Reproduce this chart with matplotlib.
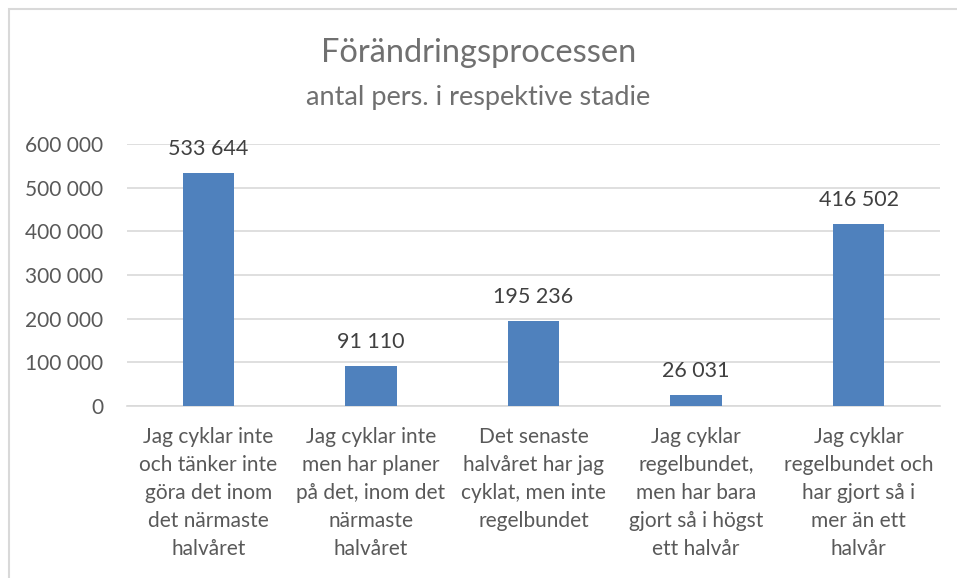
import matplotlib.pyplot as plt
import matplotlib.patches as mpatches
from matplotlib.ticker import FuncFormatter

categories = [
    "Jag cyklar inte\noch tänker inte\ngöra det inom\ndet närmaste\nhalvåret",
    "Jag cyklar inte\nmen har planer\npå det, inom det\nnärmaste\nhalvåret",
    "Det senaste\nhalvåret har jag\ncyklat, men inte\nregelbundet",
    "Jag cyklar\nregelbundet,\nmen har bara\ngjort så i högst\nett halvår",
    "Jag cyklar\nregelbundet och\nhar gjort så i\nmer än ett\nhalvår",
]
values = [533644, 91110, 195236, 26031, 416502]
yticks = [0, 100000, 200000, 300000, 400000, 500000, 600000]

plt.rcParams['font.family'] = ['Lato', 'DejaVu Sans']

W, H = 957, 578
fig = plt.figure(figsize=(W / 100, H / 100), dpi=100)
ax = fig.add_axes([127 / W, 1 - 406 / H, (940 - 127) / W, (406 - 144) / H])

# chart border (Excel style, cut off at right/bottom)
fig.patches.append(mpatches.Rectangle((8.5 / W, -0.1), 1.2, 1 - 9 / H + 0.1,
                                      transform=fig.transFigure, fill=False,
                                      edgecolor='#d9d9d9', linewidth=1.5))

x = range(len(values))
ax.bar(x, values, width=0.315, color='#4f81bd', zorder=3)
for xi, v in zip(x, values):
    ax.annotate(f"{v:,}".replace(",", " "), (xi, v), xytext=(0, 13),
                textcoords='offset points', ha='center', va='baseline',
                fontsize=15.5, color='#404040')

ax.set_xlim(-0.5, len(values) - 0.5)
ax.set_ylim(0, 600000)
ax.set_yticks(yticks)
ax.yaxis.set_major_formatter(FuncFormatter(lambda v, p: f"{int(v):,}".replace(",", " ")))
ax.grid(axis='y', color='#d9d9d9', linewidth=1.2, zorder=0)
ax.set_xticks(list(x))
ax.set_xticklabels(categories, fontsize=15, color='#595959', linespacing=1.5)
ax.tick_params(axis='both', length=0, colors='#595959')
ax.tick_params(axis='x', pad=15, labelsize=15)
ax.tick_params(axis='y', pad=17, labelsize=15)
for s in ['top', 'right', 'left']:
    ax.spines[s].set_visible(False)
ax.spines['bottom'].set_color('#d9d9d9')
ax.spines['bottom'].set_linewidth(1.2)

fig.text(0.5, 1 - 53 / H, "Förändringsprocessen", ha='center', va='center',
         fontsize=23.5, color='#707070')
fig.text(0.5, 1 - 97 / H, "antal pers. i respektive stadie", ha='center', va='center',
         fontsize=19.5, color='#707070')

fig.savefig('out.png', dpi=100)
